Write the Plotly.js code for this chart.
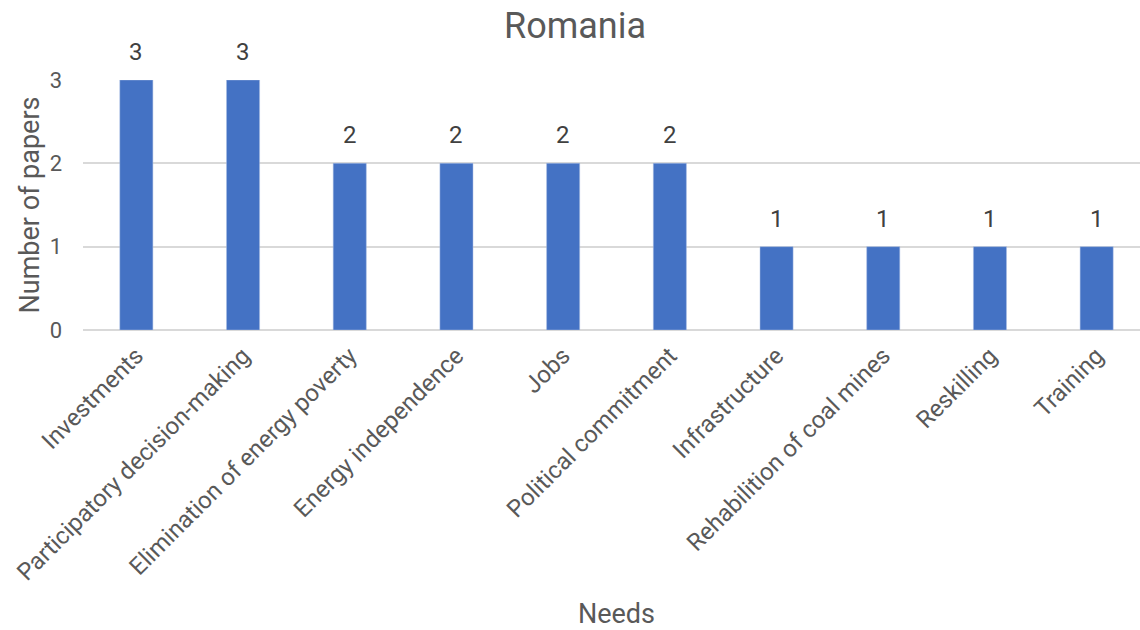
<!DOCTYPE html>
<html>
<head>
<meta charset="utf-8">
<script src="https://cdn.plot.ly/plotly-3.0.1.min.js"></script>
<style>html,body{margin:0;padding:0;overflow:hidden;background:#fff}</style>
</head>
<body>
<div id="chart" style="width:1150px;height:630px"></div>
<script>
const categories = ["Investments", "Participatory decision-making", "Elimination of energy poverty", "Energy independence", "Jobs", "Political commitment", "Infrastructure", "Rehabilition of coal mines", "Reskilling", "Training"];
const papers = [3, 3, 2, 2, 2, 2, 1, 1, 1, 1];
const yTicks = [0, 1, 2, 3];

const font = "Roboto, 'Open Sans', sans-serif";
const grey = "#595959";

const labels = categories.map((c, i) => ({
  x: c, y: papers[i], xref: "x", yref: "y",
  text: String(papers[i]), showarrow: false,
  yanchor: "bottom", yshift: 12,
  font: {family: font, size: 24, color: "#404040"}
}));

Plotly.newPlot("chart", [{
  type: "bar",
  x: categories,
  y: papers,
  marker: {color: "#4472C4", line: {color: "#a9bde3", width: 0.5}},
  hoverinfo: "x+y"
}], {
  width: 1150, height: 630,
  margin: {l: 83, r: 0, t: 80, b: 300},
  paper_bgcolor: "#fff", plot_bgcolor: "#fff",
  bargap: 0.69,
  showlegend: false,
  annotations: labels,
  title: {text: "Romania", font: {family: font, size: 36, color: grey}, x: 0.5, xanchor: "center", xref: "container", y: 0.96, yanchor: "middle", yref: "container"},
  font: {family: font, color: grey},
  xaxis: {
    tickangle: -45,
    tickfont: {family: font, size: 24, color: grey},
    ticklabelstandoff: 6,
    showgrid: false,
    showline: false,
    zeroline: false,
    ticks: "",
    range: [-0.5, 9.5],
    title: {text: "Needs", font: {family: font, size: 27, color: grey}, standoff: 20}
  },
  yaxis: {
    range: [0, 3],
    tickvals: yTicks,
    ticktext: yTicks.map(String),
    tickfont: {family: font, size: 22, color: grey},
    ticklabelstandoff: 20,
    showgrid: true, gridcolor: "#d9d9d9", gridwidth: 2,
    zeroline: true, zerolinecolor: "#d9d9d9", zerolinewidth: 2,
    showline: false, ticks: "", ticklen: 0,
    title: {text: "Number of papers", font: {family: font, size: 27, color: grey}, standoff: 2}
  }
}, {displayModeBar: false, staticPlot: true});
</script>
</body>
</html>
